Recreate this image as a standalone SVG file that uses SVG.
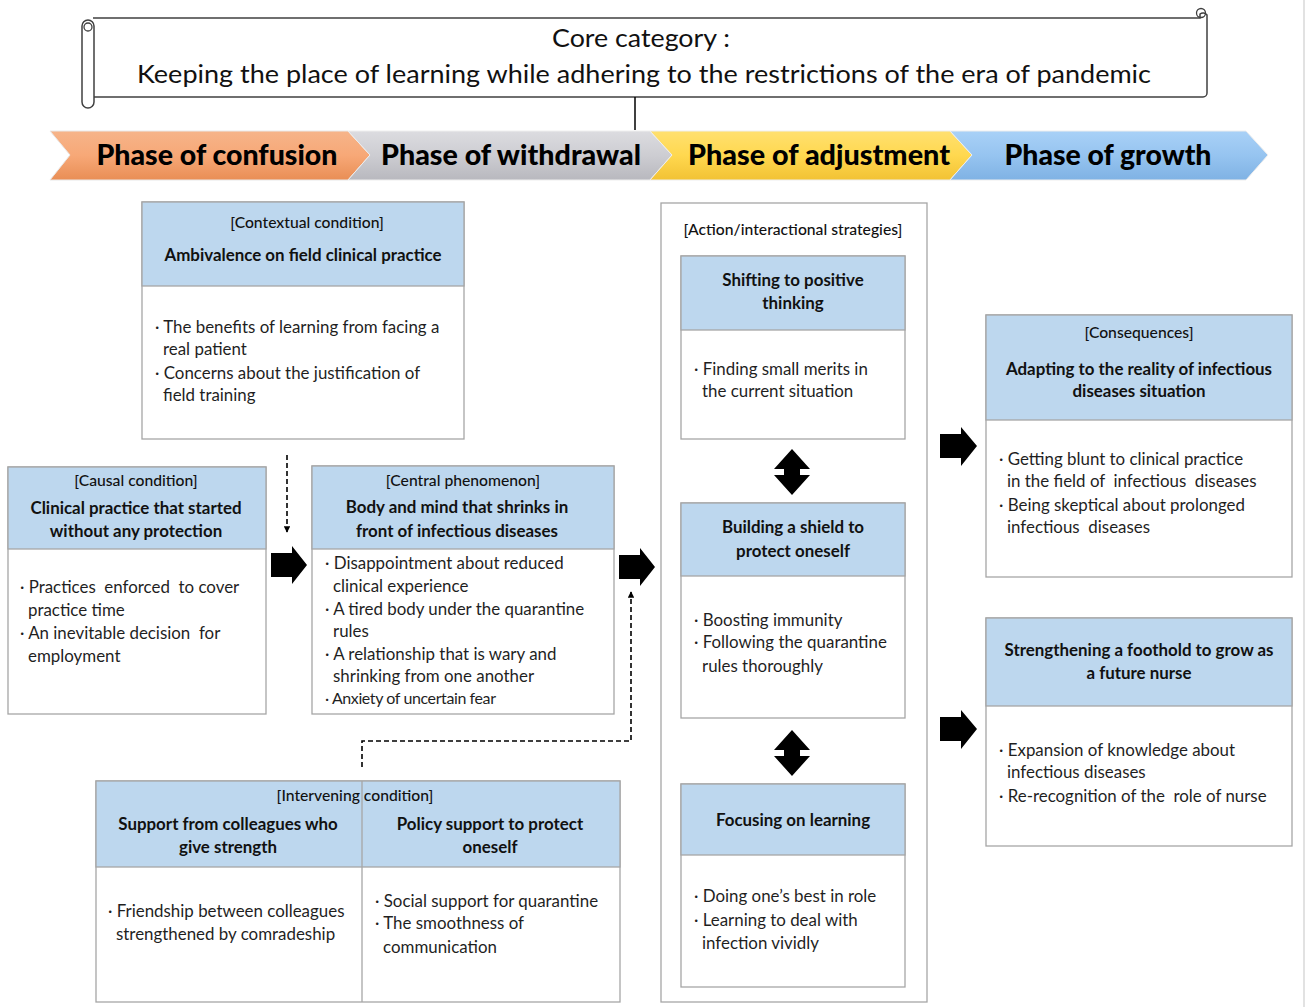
<svg xmlns="http://www.w3.org/2000/svg" width="1307" height="1007" viewBox="0 0 1307 1007">
<style>
.bx{fill:#fff;stroke:#a6a6a6;stroke-width:1.3}
.hd{fill:#bdd7ee;stroke:#a6a6a6;stroke-width:1.3}
.lbl{font-family:Lato,"Liberation Sans",sans-serif;font-size:15.7px;font-weight:500;fill:#111;text-anchor:middle}
.ttl{font-family:Lato,"Liberation Sans",sans-serif;font-size:16.9px;font-weight:bold;fill:#111;text-anchor:middle}
.bd{font-family:Lato,"Liberation Sans",sans-serif;font-size:16.9px;fill:#1f1f1f}
.ph{font-family:Lato,"Liberation Sans",sans-serif;font-size:29px;font-weight:900;fill:#000;text-anchor:middle}
.core{font-family:Lato,"Liberation Sans",sans-serif;font-size:25px;fill:#111;text-anchor:middle}
.big{fill:#000}
.dash{fill:none;stroke:#000;stroke-width:1.6;stroke-dasharray:5,3}
</style>
<defs>
<linearGradient id="gO" x1="0" y1="0" x2="0" y2="1"><stop offset="0" stop-color="#f6b48a"/><stop offset="0.5" stop-color="#f7a877"/><stop offset="1" stop-color="#e98e55"/></linearGradient>
<linearGradient id="gG" x1="0" y1="0" x2="0" y2="1"><stop offset="0" stop-color="#dcdce0"/><stop offset="0.5" stop-color="#cdcdd2"/><stop offset="1" stop-color="#b8b8be"/></linearGradient>
<linearGradient id="gY" x1="0" y1="0" x2="0" y2="1"><stop offset="0" stop-color="#ffe070"/><stop offset="0.5" stop-color="#ffd84f"/><stop offset="1" stop-color="#f2c234"/></linearGradient>
<linearGradient id="gB" x1="0" y1="0" x2="0" y2="1"><stop offset="0" stop-color="#a9d1f7"/><stop offset="0.5" stop-color="#96c4f0"/><stop offset="1" stop-color="#7fb2e4"/></linearGradient>
<marker id="ah" viewBox="0 0 10 10" refX="9" refY="5" markerWidth="4" markerHeight="4" orient="auto"><path d="M0,0 L10,5 L0,10 z" fill="#000"/></marker>
</defs>
<rect width="1307" height="1007" fill="#fff"/>
<line x1="1304" y1="0" x2="1304" y2="1007" stroke="#d9d9d9" stroke-width="1.5"/>

<g id="core">
<path d="M93,18 H1200 V14 a5,5 0 0 1 7,1 V93 a4,4 0 0 1 -4,4 H93" fill="#fff" stroke="#404040" stroke-width="1.5"/>
<circle cx="1201" cy="13" r="4.5" fill="none" stroke="#404040" stroke-width="1.3"/>
<rect x="82" y="20" width="12" height="88" rx="6" fill="#fff" stroke="#404040" stroke-width="1.5"/>
<circle cx="88" cy="27" r="4" fill="none" stroke="#404040" stroke-width="1.3"/>
<text class="core" x="641" y="47" textLength="178" lengthAdjust="spacingAndGlyphs">Core category :</text>
<text class="core" x="644" y="83" textLength="1014" lengthAdjust="spacingAndGlyphs">Keeping the place of learning while adhering to the restrictions of the era of pandemic</text>
</g>
<line x1="635" y1="97" x2="635" y2="130" stroke="#000" stroke-width="1.5"/>

<g id="phases">
<polygon points="50,131 348,131 370,155 348,180 50,180 70,155" fill="url(#gO)" stroke="#e8e8e8" stroke-width="1"/>
<polygon points="348,131 650,131 672,155 650,180 348,180 370,155" fill="url(#gG)" stroke="#eeeeee" stroke-width="1"/>
<polygon points="650,131 950,131 972,155 950,180 650,180 672,155" fill="url(#gY)" stroke="#eeeeee" stroke-width="1"/>
<polygon points="950,131 1246,131 1268,155 1246,180 950,180 972,155" fill="url(#gB)" stroke="#eeeeee" stroke-width="1"/>
<text class="ph" x="217" y="165" textLength="241" lengthAdjust="spacingAndGlyphs">Phase of confusion</text>
<text class="ph" x="511" y="165" textLength="260" lengthAdjust="spacingAndGlyphs">Phase of withdrawal</text>
<text class="ph" x="819" y="165" textLength="262" lengthAdjust="spacingAndGlyphs">Phase of adjustment</text>
<text class="ph" x="1108" y="165" textLength="207" lengthAdjust="spacingAndGlyphs">Phase of growth</text>
</g>

<g id="contextual">
<rect class="bx" x="142" y="202" width="322" height="237"/>
<rect class="hd" x="142" y="202" width="322" height="84"/>
<text class="lbl" x="307" y="228">[Contextual condition]</text>
<text class="ttl" x="303" y="261">Ambivalence on field clinical practice</text>
<text class="bd" x="155" y="333">· The benefits of learning from facing a</text>
<text class="bd" x="163" y="355">real patient</text>
<text class="bd" x="155" y="379">· Concerns about the justification of</text>
<text class="bd" x="163" y="401">field training</text>
</g>

<g id="causal">
<rect class="bx" x="8" y="467" width="258" height="247"/>
<rect class="hd" x="8" y="467" width="258" height="82"/>
<text class="lbl" x="136" y="486">[Causal condition]</text>
<text class="ttl" x="136" y="514">Clinical practice that started</text>
<text class="ttl" x="136" y="537">without any protection</text>
<text class="bd" x="20" y="593" xml:space="preserve">· Practices  enforced  to cover</text>
<text class="bd" x="28" y="616">practice time</text>
<text class="bd" x="20" y="639" xml:space="preserve">· An inevitable decision  for</text>
<text class="bd" x="28" y="662">employment</text>
</g>

<g id="central">
<rect class="bx" x="312" y="466" width="302" height="248"/>
<rect class="hd" x="312" y="466" width="302" height="83"/>
<text class="lbl" x="463" y="486">[Central phenomenon]</text>
<text class="ttl" x="457" y="513">Body and mind that shrinks in</text>
<text class="ttl" x="457" y="537">front of infectious diseases</text>
<text class="bd" x="325" y="569">· Disappointment about reduced</text>
<text class="bd" x="333" y="592">clinical experience</text>
<text class="bd" x="325" y="615">· A tired body under the quarantine</text>
<text class="bd" x="333" y="637">rules</text>
<text class="bd" x="325" y="660">· A relationship that is wary and</text>
<text class="bd" x="333" y="682">shrinking from one another</text>
<text class="bd" x="325" y="704" style="font-size:16px;letter-spacing:-0.4px">· Anxiety of uncertain fear</text>
</g>

<g id="intervening">
<rect class="bx" x="96" y="781" width="524" height="221"/>
<rect class="hd" x="96" y="781" width="524" height="86"/>
<line x1="362" y1="781" x2="362" y2="1002" stroke="#a6a6a6" stroke-width="1.3"/>
<text class="lbl" x="355" y="801">[Intervening condition]</text>
<text class="ttl" x="228" y="830">Support from colleagues who</text>
<text class="ttl" x="228" y="853">give strength</text>
<text class="ttl" x="490" y="830">Policy support to protect</text>
<text class="ttl" x="490" y="853">oneself</text>
<text class="bd" x="108" y="917">· Friendship between colleagues</text>
<text class="bd" x="116" y="940">strengthened by comradeship</text>
<text class="bd" x="375" y="907">· Social support for quarantine</text>
<text class="bd" x="375" y="929">· The smoothness of</text>
<text class="bd" x="383" y="953">communication</text>
</g>

<g id="strategies">
<rect class="bx" x="661" y="203" width="266" height="799"/>
<text class="lbl" x="793" y="235">[Action/interactional strategies]</text>
</g>
<g id="shifting">
<rect class="bx" x="681" y="256" width="224" height="183"/>
<rect class="hd" x="681" y="256" width="224" height="74"/>
<text class="ttl" x="793" y="286">Shifting to positive</text>
<text class="ttl" x="793" y="309">thinking</text>
<text class="bd" x="694" y="375">· Finding small merits in</text>
<text class="bd" x="702" y="397">the current situation</text>
</g>
<g id="shield">
<rect class="bx" x="681" y="503" width="224" height="215"/>
<rect class="hd" x="681" y="503" width="224" height="73"/>
<text class="ttl" x="793" y="533">Building a shield to</text>
<text class="ttl" x="793" y="557">protect oneself</text>
<text class="bd" x="694" y="626">· Boosting immunity</text>
<text class="bd" x="694" y="648">· Following the quarantine</text>
<text class="bd" x="702" y="672">rules thoroughly</text>
</g>
<g id="focusing">
<rect class="bx" x="681" y="784" width="224" height="203"/>
<rect class="hd" x="681" y="784" width="224" height="71"/>
<text class="ttl" x="793" y="826">Focusing on learning</text>
<text class="bd" x="694" y="902">· Doing one’s best in role</text>
<text class="bd" x="694" y="926">· Learning to deal with</text>
<text class="bd" x="702" y="949">infection vividly</text>
</g>

<g id="adapting">
<rect class="bx" x="986" y="315" width="306" height="262"/>
<rect class="hd" x="986" y="315" width="306" height="105"/>
<text class="lbl" x="1139" y="338">[Consequences]</text>
<text class="ttl" x="1139" y="375">Adapting to the reality of infectious</text>
<text class="ttl" x="1139" y="397">diseases situation</text>
<text class="bd" x="999" y="465">· Getting blunt to clinical practice</text>
<text class="bd" x="1007" y="487" xml:space="preserve">in the field of  infectious  diseases</text>
<text class="bd" x="999" y="511">· Being skeptical about prolonged</text>
<text class="bd" x="1007" y="533" xml:space="preserve">infectious  diseases</text>
</g>
<g id="strengthening">
<rect class="bx" x="986" y="618" width="306" height="228"/>
<rect class="hd" x="986" y="618" width="306" height="88"/>
<text class="ttl" x="1139" y="656">Strengthening a foothold to grow as</text>
<text class="ttl" x="1139" y="679">a future nurse</text>
<text class="bd" x="999" y="756">· Expansion of knowledge about</text>
<text class="bd" x="1007" y="778">infectious diseases</text>
<text class="bd" x="999" y="802" xml:space="preserve">· Re-recognition of the  role of nurse</text>
</g>

<g id="connectors">
<polygon class="big" points="271,553 292,553 292,546 307,565 292,584 292,577 271,577"/>
<polygon class="big" points="619,555 640,555 640,548 655,567 640,586 640,579 619,579"/>
<polygon class="big" points="940,434 961,434 961,427 977,446 961,466 961,458 940,458"/>
<polygon class="big" points="940,717 961,717 961,710 977,729 961,749 961,741 940,741"/>
<polygon class="big" points="792,449 810,469 800,469 800,475 810,475 792,495 774,475 784,475 784,469 774,469"/>
<polygon class="big" points="792,730 810,750 800,750 800,756 810,756 792,776 774,756 784,756 784,750 774,750"/>
<path class="dash" d="M287,455 V532" marker-end="url(#ah)"/>
<path class="dash" d="M362,767 V741 H631 V592" marker-end="url(#ah)"/>
</g>
</svg>
